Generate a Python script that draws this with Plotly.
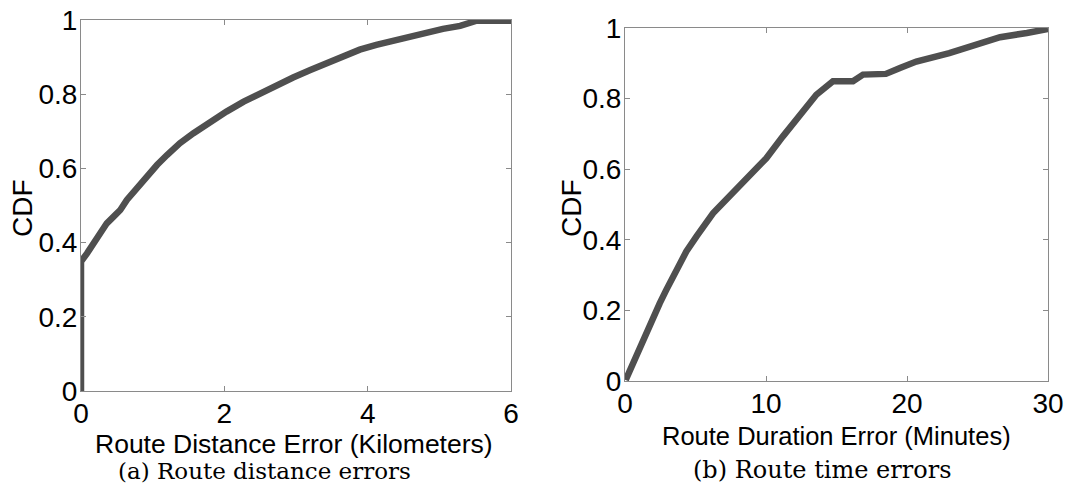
import plotly.graph_objects as go

# Left panel: route distance error CDF
dist_km = [0, 0, 0.084, 0.176, 0.27, 0.36, 0.455, 0.548, 0.64, 0.78, 0.92, 1.06,
           1.2, 1.38, 1.57, 1.80, 2.03, 2.27, 2.50, 2.73, 2.96, 3.20, 3.43, 3.66,
           3.89, 4.12, 4.36, 4.59, 4.82, 5.05, 5.29, 5.42, 5.52, 6.0]
dist_cdf = [0, 0.349, 0.371, 0.398, 0.429, 0.452, 0.470, 0.488, 0.515, 0.546,
            0.582, 0.609, 0.636, 0.668, 0.695, 0.726, 0.753, 0.780, 0.802, 0.825,
            0.845, 0.865, 0.883, 0.903, 0.920, 0.933, 0.945, 0.955, 0.964, 0.976,
            0.984, 0.991, 0.998, 0.998]

# Right panel: route duration error CDF
dur_min = [0.05, 0.57, 1.04, 1.51, 1.99, 2.46, 2.93, 3.40, 3.88, 4.35, 5.06, 5.29,
           6.24, 6.48, 7.66, 8.84, 10.02, 11.2, 12.39, 13.57, 14.75, 16.17, 16.88,
           18.5, 19.5, 20.66, 23.0, 24.2, 25.4, 26.6, 28.5, 29.6, 30.0]
dur_cdf = [0.003, 0.051, 0.097, 0.140, 0.182, 0.220, 0.258, 0.296, 0.334, 0.367,
           0.409, 0.423, 0.475, 0.485, 0.532, 0.579, 0.631, 0.693, 0.754, 0.811,
           0.849, 0.849, 0.868, 0.870, 0.887, 0.905, 0.929, 0.943, 0.959, 0.974,
           0.986, 0.997, 0.997]

x1_ticks = [0, 2, 4, 6]
x2_ticks = [0, 10, 20, 30]
y_ticks = [0, 0.2, 0.4, 0.6, 0.8, 1]

x1_title = "Route Distance Error (Kilometers)"
x2_title = "Route Duration Error (Minutes)"
y_title = "CDF"
cap1 = "(a) Route distance errors"
cap2 = "(b) Route time errors"

W, H = 1068, 487
LINE_COLOR = "#4f4f4f"
AX_COLOR = "#8a8a8a"
SANS = "Liberation Sans, Arial, sans-serif"
SERIF = "DejaVu Serif, serif"
TICK_FONT = dict(family=SANS, size=28, color="black")

fig = go.Figure()
fig.add_trace(go.Scatter(x=dist_km, y=dist_cdf, mode="lines",
                         line=dict(color=LINE_COLOR, width=6.5),
                         xaxis="x", yaxis="y", showlegend=False))
fig.add_trace(go.Scatter(x=dur_min, y=dur_cdf, mode="lines",
                         line=dict(color=LINE_COLOR, width=6.5),
                         xaxis="x2", yaxis="y2", showlegend=False))

def xax(dom, rng, ticks, anchor):
    return dict(domain=dom, range=rng, tickvals=ticks, ticks="inside", ticklen=5,
                tickcolor=AX_COLOR, showline=True, linecolor=AX_COLOR, linewidth=1,
                mirror="ticks", showgrid=False, zeroline=False, tickfont=TICK_FONT,
                anchor=anchor, automargin=False, ticklabelstandoff=-3)

def yax(dom, ticks, anchor):
    return dict(domain=dom, range=[0, 1], tickvals=ticks, ticks="inside", ticklen=5,
                tickcolor=AX_COLOR, showline=True, linecolor=AX_COLOR, linewidth=1,
                mirror="ticks", showgrid=False, zeroline=False, tickfont=TICK_FONT,
                anchor=anchor, automargin=False, ticklabelstandoff=-3)

def ann(text, x, y, size, family=SANS, angle=0):
    return dict(text=text, x=x / W, y=1 - y / H, xref="paper", yref="paper",
                showarrow=False, font=dict(family=family, size=size, color="black"),
                xanchor="center", yanchor="middle", textangle=angle)

fig.update_layout(
    width=W, height=H,
    margin=dict(l=0, r=0, t=0, b=0),
    paper_bgcolor="white", plot_bgcolor="white",
    xaxis=xax([81 / W, 511 / W], [0, 6], x1_ticks, "y"),
    yaxis=yax([1 - 391 / H, 1 - 20 / H], y_ticks, "x"),
    xaxis2=xax([625 / W, 1048 / W], [0, 30], x2_ticks, "y2"),
    yaxis2=yax([1 - 381 / H, 1 - 28 / H], y_ticks, "x2"),
    annotations=[
        ann(x1_title, 294, 444, 26.5),
        ann(x2_title, 836, 436, 25.5),
        ann(y_title, 22, 208, 28, angle=-90),
        ann(y_title, 571, 208, 28, angle=-90),
        ann(cap1, 264, 471, 23, family=SERIF),
        ann(cap2, 822, 470, 24, family=SERIF),
    ],
)

fig.write_html("out.html")
